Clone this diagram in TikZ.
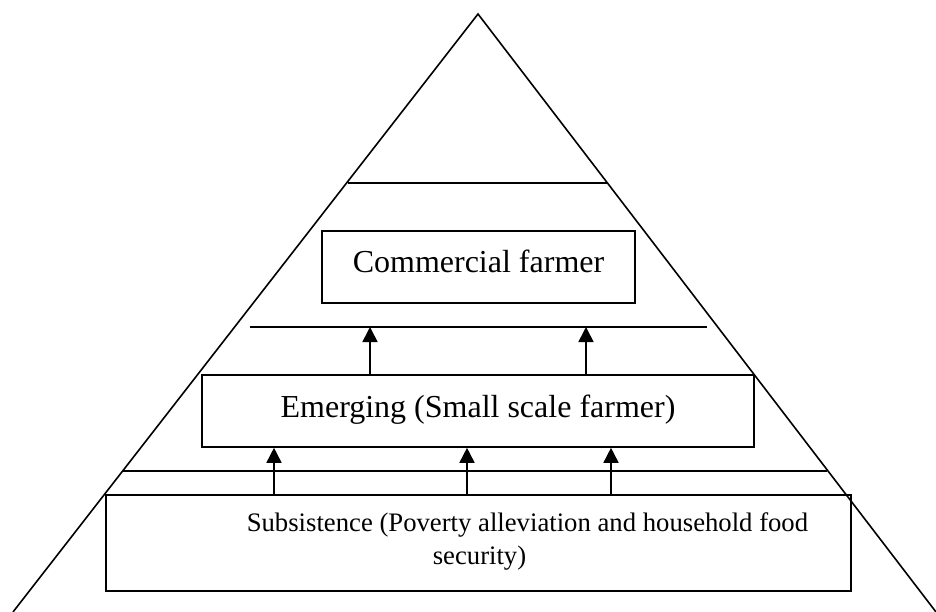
\documentclass[tikz,border=0pt]{standalone}
\usepackage{fontspec}
\setmainfont{Liberation Serif}
\usetikzlibrary{arrows.meta}

\begin{document}
\begin{tikzpicture}
  [x=1pt,y=-1pt,line width=1.6pt,
   every node/.style={draw,rectangle,inner sep=0pt,text depth=0pt,font=\fontsize{32}{38}\selectfont},
   up/.style={-{Triangle[width=15pt,length=15pt]}}]
  \useasboundingbox (0,0) rectangle (936,612);

  % pyramid sides, open at the bottom
  \draw (13,612) -- (478,14) -- (936,612);

  \node (com) at (478.5,267) [minimum width=313pt,minimum height=72pt,text height=10pt] {Commercial farmer};
  \node (emg) at (478,411)   [minimum width=552pt,minimum height=72pt,text height=12pt] {Emerging (Small scale farmer)};
  \node (sub) at (478.5,543) [minimum width=745pt,minimum height=96pt] {};
  \node (subtxt) at (246,539) [draw=none,anchor=west,align=left,font=\fontsize{26.7}{33}\selectfont]
    {Subsistence (Poverty alleviation and household food\\\hspace*{186pt}security)};

  % layer lines
  \draw (348,183) -- (608,183);
  \draw (250,327) -- (707,327);
  \draw (123,471) -- (827,471);

  \foreach \x in {370,586}
    \draw[up] (\x,0 |- emg.north) -- (\x,327);
  \foreach \x in {274,467,611}
    \draw[up] (\x,0 |- sub.north) -- (\x,0 |- emg.south);

\end{tikzpicture}
\end{document}
